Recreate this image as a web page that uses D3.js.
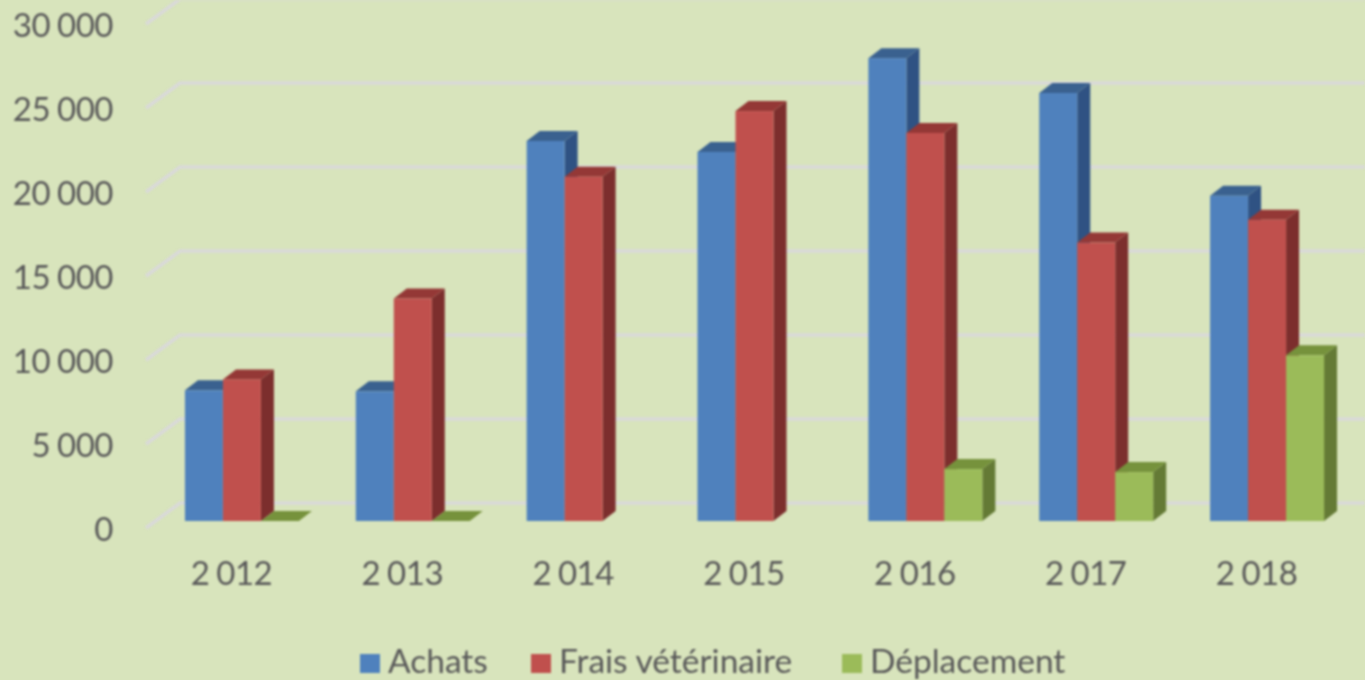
<!DOCTYPE html>
<html>
<head>
<meta charset="utf-8">
<script src="https://cdn.jsdelivr.net/npm/d3@7"></script>
<style>
    html, body { margin: 0; padding: 0; background: #d8e4bc; overflow: hidden; }
    svg { display: block; filter: blur(0.8px); }
    text { font-family: Lato, "Open Sans", sans-serif; fill: #595959; }
    .tick text { font-size: 33px; word-spacing: -1px; letter-spacing: -0.5px; }
</style>
</head>
<body>
<svg id="bar-chart"></svg>
<script>
const years = ["2 012", "2 013", "2 014", "2 015", "2 016", "2 017", "2 018"];
const seriesNames = ["Achats", "Frais vétérinaire", "Déplacement"];
const achats = [7780, 7720, 22620, 21970, 27550, 25475, 19360];
const frais = [8430, 13240, 20490, 24400, 23100, 16570, 17930];
// 2014 and 2015 have no bar at all, 2012 and 2013 are a flat zero
const deplacement = [0, 0, null, null, 3090, 2910, 9860];
const yTicks = [0, 5000, 10000, 15000, 20000, 25000, 30000];
const seriesValues = [achats, frais, deplacement];

const width = 1365, height = 680;

// Colors for each series: front, top and side faces
const front = d3.scaleOrdinal().domain(seriesNames).range(["#4f81bd", "#c0504d", "#9bbb59"]);
const top3d = d3.scaleOrdinal().domain(seriesNames).range(["#3a618f", "#943836", "#76923c"]);
const side = d3.scaleOrdinal().domain(seriesNames).range(["#2f5283", "#7c2e2d", "#647a35"]);

// 3D offsets: floor depth, and where the bars sit on the floor
const floor = { dx: 34, dy: -25 };
const inset = { dx: 10.5, dy: -7 };
const bar = { dx: 13, dy: -10 };

var svg = d3.select("#bar-chart")
    .attr("width", width)
    .attr("height", height);

var xScale = d3.scaleBand()
    .domain(years)
    .range([146, 1342])
    .paddingInner(0.333)
    .paddingOuter(0.1665);

var x1Scale = d3.scaleBand()
    .domain(seriesNames)
    .range([0, xScale.bandwidth()]);

var yScale = d3.scaleLinear()
    .domain([0, 30000])
    .range([528, 24]);

// Gridlines run up the side wall, then along the back wall
svg.append("g")
    .selectAll("path")
    .data(yTicks)
    .enter()
    .append("path")
    .attr("fill", "none")
    .attr("stroke", "#d9d9d9")
    .attr("stroke-width", 3.5)
    .attr("d", d => {
        const path = d3.path();
        path.moveTo(xScale.range()[0], yScale(d));
        path.lineTo(xScale.range()[0] + floor.dx, yScale(d) + floor.dy);
        path.lineTo(width, yScale(d) + floor.dy);
        return path.toString();
    });

// Y axis
const locale = d3.formatLocale({ decimal: ",", thousands: " ", grouping: [3], currency: ["", " €"] });
var yAxis = svg.append("g")
    .attr("transform", `translate(${xScale.range()[0]}, 2)`)
    .call(d3.axisLeft(yScale).tickValues(yTicks).tickSize(0).tickPadding(33).tickFormat(locale.format(",d")));
yAxis.select(".domain").remove();

// X axis
var xAxis = svg.append("g")
    .attr("transform", "translate(0, 562)")
    .call(d3.axisBottom(xScale).tickSize(0).tickPadding(0));
xAxis.select(".domain").remove();
xAxis.selectAll("text").attr("dy", "0.71em");

// Bars, year by year, left to right so the nearer series covers the side of the previous one
years.forEach((year, i) => {
    const group = svg.append("g")
        .attr("transform", `translate(${xScale(year) + inset.dx}, ${inset.dy})`);

    seriesNames.forEach((name, s) => {
        const v = seriesValues[s][i];
        if (v === null) return;
        const x0 = x1Scale(name), x1 = x0 + x1Scale.bandwidth();
        const yTop = yScale(v), yBase = yScale(0);

        group.append("polygon")
            .attr("fill", side(name))
            .attr("points", [[x1, yTop], [x1 + bar.dx, yTop + bar.dy], [x1 + bar.dx, yBase + bar.dy], [x1, yBase]].join(" "));

        group.append("polygon")
            .attr("fill", top3d(name))
            .attr("points", [[x0, yTop], [x0 + bar.dx, yTop + bar.dy], [x1 + bar.dx, yTop + bar.dy], [x1, yTop]].join(" "));

        group.append("rect")
            .attr("x", x0)
            .attr("y", yTop)
            .attr("width", x1 - x0)
            .attr("height", yBase - yTop)
            .attr("fill", front(name));
    });
});

// Legend
const legendX = d3.scaleOrdinal().domain(seriesNames).range([360, 531, 842]);
const legend = svg.selectAll(".legend")
    .data(seriesNames)
    .enter()
    .append("g")
    .attr("class", "legend")
    .attr("transform", d => `translate(${legendX(d)}, 654)`);

legend.append("rect")
    .attr("width", 20)
    .attr("height", 19)
    .attr("fill", d => front(d));

legend.append("text")
    .attr("x", 28)
    .attr("y", 19)
    .style("font-size", "33.5px")
    .text(d => d);
</script>
</body>
</html>
